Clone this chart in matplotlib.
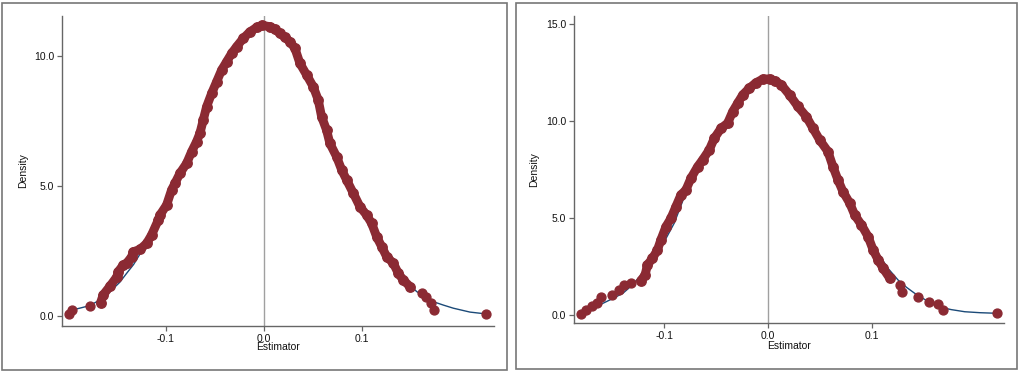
import matplotlib
matplotlib.use("Agg")
import matplotlib.pyplot as plt
from matplotlib.patches import Rectangle

plt.rcParams['font.family'] = ['Liberation Sans', 'DejaVu Sans']

# ---- left panel: kernel density points (continuous band + isolated dots) and fitted curve
band_x_a = [-0.1667, -0.1640, -0.1570, -0.1500, -0.1487, -0.1436, -0.1400, -0.1350, -0.1333, -0.1265,
            -0.1197, -0.1146, -0.1078, -0.1061, -0.0993, -0.0942, -0.0908, -0.0857, -0.0789, -0.0738,
            -0.0687, -0.0653, -0.0619, -0.0585, -0.0534, -0.0483, -0.0432, -0.0381, -0.0330, -0.0279,
            -0.0211, -0.0143, -0.0075, -0.0020, 0.0061, 0.0112, 0.0163, 0.0214, 0.0265, 0.0316,
            0.0367, 0.0436, 0.0503, 0.0554, 0.0588, 0.0639, 0.0673, 0.0741, 0.0793, 0.0844,
            0.0912, 0.0980, 0.1048, 0.1099, 0.1150, 0.1201, 0.1252, 0.1320, 0.1371, 0.1422, 0.1490]
band_y_a = [0.51, 0.81, 1.15, 1.51, 1.70, 1.96, 2.03, 2.28, 2.47, 2.56,
            2.79, 3.12, 3.69, 3.88, 4.27, 4.85, 5.10, 5.49, 5.87, 6.32,
            6.71, 7.03, 7.54, 8.05, 8.56, 9.01, 9.46, 9.78, 10.10, 10.36,
            10.68, 10.93, 11.10, 11.18, 11.13, 11.03, 10.87, 10.72, 10.55, 10.30,
            9.72, 9.27, 8.82, 8.31, 7.67, 7.15, 6.64, 6.13, 5.62, 5.23,
            4.72, 4.20, 3.88, 3.56, 3.05, 2.67, 2.28, 2.03, 1.64, 1.38, 1.13]
dots_x_a = [-0.1987, -0.1962, -0.1776, 0.1609, 0.1653, 0.1701, 0.1735, 0.2265]
dots_y_a = [0.08, 0.23, 0.38, 0.90, 0.72, 0.51, 0.23, 0.08]
fit_x_a = [-0.1962, -0.1880, -0.1776, -0.1673, -0.1600, -0.1538, -0.1470, -0.1401, -0.1330, -0.1265,
           -0.1150, -0.1000, -0.0800, -0.0600, -0.0400, -0.0200, 0.0, 0.0200, 0.0400, 0.0600,
           0.0800, 0.1000, 0.1150, 0.1300, 0.1420, 0.1558, 0.1650, 0.1728, 0.1830, 0.1932, 0.2102, 0.2265]
fit_y_a = [0.23, 0.30, 0.40, 0.62, 0.82, 1.05, 1.30, 1.64, 1.98, 2.38,
           3.05, 4.20, 5.80, 7.75, 9.60, 10.75, 11.18, 10.75, 9.50, 7.60,
           5.60, 4.10, 3.00, 2.05, 1.45, 0.94, 0.72, 0.55, 0.42, 0.30, 0.15, 0.08]

# ---- right panel
band_x_b = [-0.1229, -0.1187, -0.1165, -0.1116, -0.1068, -0.1035, -0.0986, -0.0938, -0.0890, -0.0841,
            -0.0793, -0.0744, -0.0680, -0.0632, -0.0567, -0.0518, -0.0453, -0.0390, -0.0341, -0.0293,
            -0.0244, -0.0179, -0.0114, -0.0050, 0.0015, 0.0070, 0.0128, 0.0208, 0.0289, 0.0370,
            0.0434, 0.0499, 0.0579, 0.0628, 0.0676, 0.0724, 0.0790, 0.0838, 0.0903, 0.0967,
            0.1016, 0.1064, 0.1112, 0.1177]
band_y_b = [1.77, 2.06, 2.58, 2.92, 3.35, 3.87, 4.55, 4.98, 5.58, 6.19,
            6.44, 7.05, 7.64, 7.99, 8.51, 9.11, 9.62, 9.88, 10.48, 10.91,
            11.34, 11.69, 11.97, 12.15, 12.16, 12.05, 11.86, 11.34, 10.74, 10.22,
            9.62, 9.02, 8.42, 7.64, 6.96, 6.36, 5.76, 5.15, 4.64, 4.04,
            3.35, 2.84, 2.41, 1.89]
dots_x_b = [-0.1810, -0.1762, -0.1698, -0.1649, -0.1616, -0.1504, -0.1439, -0.1390, -0.1326,
            0.1274, 0.1291, 0.1451, 0.1555, 0.1640, 0.1694, 0.2210]
dots_y_b = [0.05, 0.26, 0.46, 0.63, 0.91, 1.03, 1.29, 1.55, 1.63,
            1.55, 1.20, 0.94, 0.69, 0.57, 0.26, 0.09]
fit_x_b = [-0.1810, -0.1700, -0.1596, -0.1500, -0.1402, -0.1320, -0.1240, -0.1150, -0.1050, -0.0905,
           -0.0809, -0.0700, -0.0600, -0.0400, -0.0200, 0.0, 0.0200, 0.0400, 0.0600, 0.0800,
           0.0950, 0.1064, 0.1160, 0.1257, 0.1340, 0.1417, 0.1530, 0.1643, 0.1770, 0.1901, 0.2050, 0.2210]
fit_y_b = [0.07, 0.32, 0.60, 0.85, 1.12, 1.50, 1.97, 2.55, 3.30, 4.74,
           6.08, 7.30, 8.30, 10.10, 11.50, 12.15, 11.40, 9.95, 8.10, 5.80,
           4.20, 3.18, 2.40, 1.80, 1.42, 1.12, 0.75, 0.43, 0.28, 0.17, 0.12, 0.09]

RED = '#8b2a33'
BLUE = '#1b4a78'
AXC = '#666666'

W, H = 1021, 373
fig = plt.figure(figsize=(W / 100, H / 100), dpi=100)

# outer frames around each panel
for x0, x1, y0, y1 in [(2, 507, 3, 370), (516, 1017, 3, 369)]:
    fig.patches.append(Rectangle((x0 / W, 1 - y1 / H), (x1 - x0) / W, (y1 - y0) / H,
                                 transform=fig.transFigure, fill=False,
                                 edgecolor='#777777', linewidth=1.2))


def panel(rect, bx, by, dx, dy, fx, fy, xlim, ylim, yticks, ylab_x, xlab_y):
    l, t, r, b = rect
    ax = fig.add_axes([l / W, 1 - b / H, (r - l) / W, (b - t) / H])
    ax.axvline(0, color='#a0a0a0', lw=1.0, zorder=1)
    ax.plot(fx, fy, color=BLUE, lw=1.0, zorder=2)
    ax.plot(bx, by, color=RED, lw=6.4, solid_capstyle='round', solid_joinstyle='round', zorder=3)
    ax.plot(bx, by, 'o', color=RED, ms=6.8, mec=RED, zorder=3)
    ax.plot(dx, dy, 'o', color=RED, ms=6.4, mec=RED, zorder=3)
    ax.set_xlim(*xlim)
    ax.set_ylim(*ylim)
    ax.set_xticks([-0.1, 0.0, 0.1])
    ax.set_xticklabels(['-0.1', '0.0', '0.1'])
    ax.set_yticks(yticks)
    ax.set_yticklabels(['%.1f' % v for v in yticks])
    for s in ['top', 'right']:
        ax.spines[s].set_visible(False)
    for s in ['left', 'bottom']:
        ax.spines[s].set_color(AXC)
        ax.spines[s].set_linewidth(1.0)
    ax.tick_params(axis='both', colors=AXC, labelcolor='#111111', labelsize=7.5,
                   length=3.8, width=0.9, pad=1.8)
    ax.set_ylabel('Density', fontsize=7.5, color='#111111')
    ax.yaxis.set_label_coords(ylab_x, 0.5)
    ax.set_xlabel('Estimator', fontsize=7.5, color='#111111')
    ax.xaxis.set_label_coords(0.5, xlab_y)
    return ax


panel((62, 16, 494, 326), band_x_a, band_y_a, dots_x_a, dots_y_a, fit_x_a, fit_y_a,
      (-0.206, 0.2347), (-0.385, 11.54), [0.0, 5.0, 10.0], -0.079, -0.052)
panel((574, 16, 1004, 323), band_x_b, band_y_b, dots_x_b, dots_y_b, fit_x_b, fit_y_b,
      (-0.1874, 0.228), (-0.41, 15.4), [0.0, 5.0, 10.0, 15.0], -0.081, -0.059)

fig.savefig('out.png', dpi=100)
